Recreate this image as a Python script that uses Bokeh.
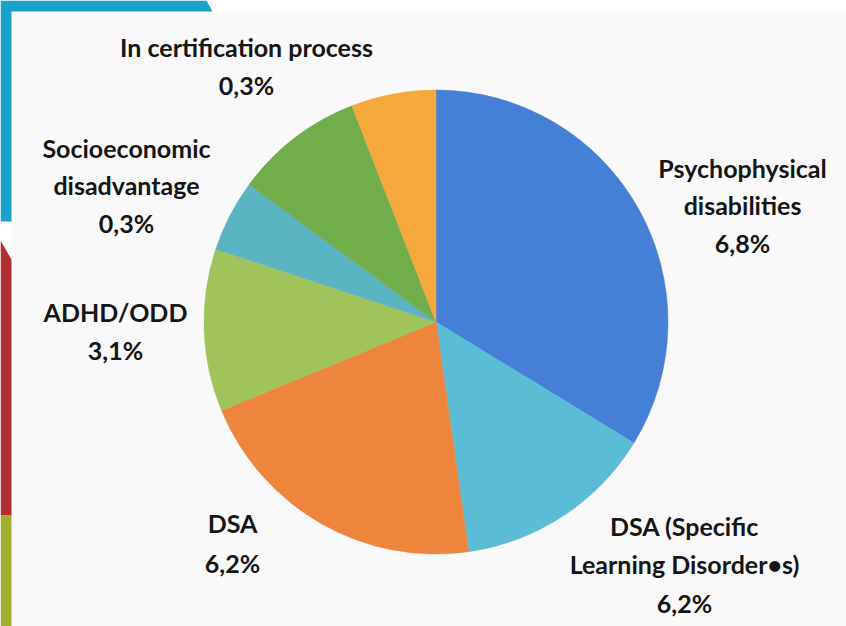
import numpy as np
from bokeh.plotting import figure
from bokeh.models import Range1d
from bokeh.core.properties import value
from bokeh.embed import file_html
from bokeh.resources import INLINE

# ---- data ----
slice_names = ["Psychophysical disabilities", "DSA (Specific Learning Disorders)", "DSA",
               "ADHD/ODD", "Socioeconomic disadvantage", "Unlabelled", "In certification process"]
slice_shares = [33.7, 14.0, 21.0, 11.3, 5.0, 9.0, 5.9]
slice_colors = ["#467fd6", "#5bbcd6", "#ef843c", "#a1c35c", "#5ab4c2", "#72ad4c", "#f5a93c"]

label_lines = [["Psychophysical", "disabilities"],
               ["DSA (Specific", "Learning Disorder\u2022s)"],
               ["DSA"],
               ["ADHD/ODD"],
               ["Socioeconomic", "disadvantage"],
               ["In certification process"]]
label_pcts = ["6,8%", "6,2%", "6,2%", "3,1%", "0,3%", "0,3%"]

# ---- layout (pixel positions, image coords) ----
W, H = 846, 626
label_x = [742, 684, 232, 115, 126, 246]
label_first_baseline = [178, 536, 533, 322, 158, 57]
line_gap = [37.5, 38.5, 40, 38, 37.5, 38]
text_shift = -11

def Y(img_y):
    return H - img_y

def X(img_x):
    return img_x

p = figure(width=W, height=H, output_backend="svg", toolbar_location=None,
           x_range=Range1d(0, W), y_range=Range1d(0, H), min_border=0)
p.axis.visible = False
p.grid.visible = False
p.outline_line_color = None
p.background_fill_color = "white"
p.border_fill_color = "white"

# card background
p.quad(left=X(11), right=W + 10, bottom=-10, top=Y(11), fill_color="#f9f9f9", line_color=None)

# decorative bands
p.patch(x=[X(0), X(206), X(212), X(11), X(11), X(0)],
        y=[Y(0), Y(0), Y(11), Y(11), Y(221), Y(221)], fill_color="#1ba2cc", line_color=None)
p.patch(x=[X(0), X(11), X(11), X(0)], y=[Y(240), Y(259), Y(515), Y(515)],
        fill_color="#b03030", line_color=None)
p.patch(x=[X(0), X(11), X(11), X(0)], y=[Y(515), Y(515), Y(640), Y(640)],
        fill_color="#a3ad2f", line_color=None)

# pie
shares = np.array(slice_shares, dtype=float)
cum = np.concatenate([[0], np.cumsum(shares)]) / shares.sum() * 2 * np.pi
start = np.pi / 2 - cum[:-1]
end = np.pi / 2 - cum[1:]
cx, cy, r = X(435.5), Y(321.5), 232
p.wedge(x=cx, y=cy, radius=r, start_angle=start, end_angle=end, direction="clock",
        fill_color=slice_colors, line_color=slice_colors, line_width=0.5)

# labels
xs, ys, ts = [], [], []
for i, lines in enumerate(label_lines):
    allines = lines + [label_pcts[i]]
    for j, t in enumerate(allines):
        xs.append(X(label_x[i]))
        ys.append(Y(label_first_baseline[i] + j * line_gap[i] + text_shift))
        ts.append(t)
p.text(x=xs, y=ys, text=ts, text_align="center", text_baseline="alphabetic",
       text_font=value("Lato"), text_font_size="25px", text_font_style="bold",
       text_color="#151515")

open("out.html", "w").write(file_html(p, INLINE))
